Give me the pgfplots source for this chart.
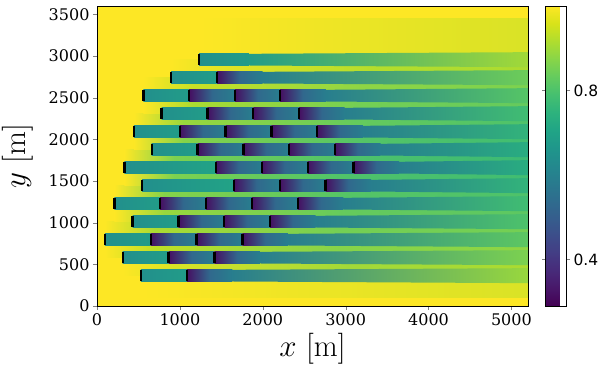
\RequirePackage{fix-cm}
\documentclass[border=0pt]{standalone}
\usepackage{fontspec}
\usepackage{pgfplots}
\pgfplotsset{compat=1.18}
\usetikzlibrary{calc}
\newfontfamily\dejavu{DejaVu Serif}
\newfontfamily\dejavusans{DejaVu Sans}

% viridis, sampled every tenth
\definecolor{vd0}{RGB}{68,1,84}
\definecolor{vd1}{RGB}{72,36,117}
\definecolor{vd2}{RGB}{65,68,135}
\definecolor{vd3}{RGB}{53,95,141}
\definecolor{vd4}{RGB}{42,120,142}
\definecolor{vd5}{RGB}{33,145,140}
\definecolor{vd6}{RGB}{34,168,132}
\definecolor{vd7}{RGB}{68,191,112}
\definecolor{vd8}{RGB}{122,209,81}
\definecolor{vd9}{RGB}{189,223,38}
\definecolor{vd10}{RGB}{253,231,37}
% c30 ... c100 : colour of the value 0.30 ... 1.00 on a 0.29--1.0 scale
\foreach \v in {30,...,100}{%
  \pgfmathsetmacro{\t}{(\v-29)/7.1}%
  \pgfmathtruncatemacro{\i}{min(floor(\t),9)}%
  \pgfmathtruncatemacro{\j}{\i+1}%
  \pgfmathtruncatemacro{\f}{round((\t-\i)*100)}%
  \xglobal\colorlet{c\v}{vd\j!\f!vd\i}%
}

\pgfplotsset{
  sh/.style n args={3}{draw=none, mark=none, left color=#1, right color=#3, middle color=#2},
  sh2/.style n args={2}{draw=none, mark=none, left color=#1, right color=#2},
}

\begin{document}
\begin{tikzpicture}
\begin{axis}[
  name=ax,
  scale only axis,
  width=431pt, height=300pt,
  xmin=0, xmax=5200, ymin=0, ymax=3600,
  axis on top,
  axis background/.style={fill=c100},
  colormap/viridis,
  point meta min=0.29, point meta max=1.0,
  xtick={0,1000,...,5000},
  ytick={0,500,...,3500},
  scaled ticks=false,
  /pgf/number format/1000 sep={},
  /pgf/number format/assume math mode=true,
  tick label style={font=\dejavu\fontsize{16}{16}\selectfont},
  tick align=outside,
  tick pos=left,
  major tick length=4pt,
  xlabel={$x$ [m]}, ylabel={$y$ [m]},
  label style={font=\fontsize{31}{31}\selectfont},
  xlabel style={at={(axis description cs:0.5,-0.17)}, anchor=base},
  ylabel style={at={(axis description cs:-0.167,0.5)}, anchor=base},
  colorbar,
  colorbar style={
    at={(parent axis.north east)}, anchor=north west, xshift=9pt,
    width=21pt,
    ytick={0.4,0.8},
    tick align=outside, major tick length=3.5pt,
    yticklabel style={font=\dejavusans\fontsize{15.5}{15.5}\selectfont},
    /pgf/number format/fixed, /pgf/number format/precision=1,
    /pgf/number format/assume math mode=true,
  },
]
% gaps between the rows of turbines (row centre to row centre)
\addplot[sh={c100}{c98}{c96}] coordinates {(530,100) (5200,100) (5200,364) (530,364)} -- cycle;
\addplot[sh2={c100}{c96}] coordinates {(310,364) (910,364) (910,580) (310,580)} -- cycle;
\addplot[sh={c96}{c90}{c91}] coordinates {(910,364) (5200,364) (5200,580) (910,580)} -- cycle;
\addplot[sh2={c100}{c93}] coordinates {(95,580) (695,580) (695,796) (95,796)} -- cycle;
\addplot[sh={c93}{c87}{c88}] coordinates {(695,580) (5200,580) (5200,796) (695,796)} -- cycle;
\addplot[sh2={c100}{c91}] coordinates {(95,796) (695,796) (695,1012) (95,1012)} -- cycle;
\addplot[sh={c91}{c85}{c85}] coordinates {(695,796) (5200,796) (5200,1012) (695,1012)} -- cycle;
\addplot[sh2={c100}{c89}] coordinates {(210,1012) (810,1012) (810,1228) (210,1228)} -- cycle;
\addplot[sh={c89}{c83}{c82}] coordinates {(810,1012) (5200,1012) (5200,1228) (810,1228)} -- cycle;
\addplot[sh2={c100}{c87}] coordinates {(210,1228) (810,1228) (810,1444) (210,1444)} -- cycle;
\addplot[sh={c87}{c81}{c80}] coordinates {(810,1228) (5200,1228) (5200,1444) (810,1444)} -- cycle;
\addplot[sh2={c100}{c86}] coordinates {(330,1444) (930,1444) (930,1660) (330,1660)} -- cycle;
\addplot[sh={c86}{c80}{c78}] coordinates {(930,1444) (5200,1444) (5200,1660) (930,1660)} -- cycle;
\addplot[sh2={c100}{c86}] coordinates {(330,1660) (930,1660) (930,1876) (330,1876)} -- cycle;
\addplot[sh={c86}{c80}{c77}] coordinates {(930,1660) (5200,1660) (5200,1876) (930,1876)} -- cycle;
\addplot[sh2={c100}{c87}] coordinates {(445,1876) (1045,1876) (1045,2092) (445,2092)} -- cycle;
\addplot[sh={c87}{c81}{c78}] coordinates {(1045,1876) (5200,1876) (5200,2092) (1045,2092)} -- cycle;
\addplot[sh2={c100}{c89}] coordinates {(445,2092) (1045,2092) (1045,2308) (445,2308)} -- cycle;
\addplot[sh={c89}{c83}{c80}] coordinates {(1045,2092) (5200,2092) (5200,2308) (1045,2308)} -- cycle;
\addplot[sh2={c100}{c91}] coordinates {(560,2308) (1160,2308) (1160,2524) (560,2524)} -- cycle;
\addplot[sh={c91}{c85}{c83}] coordinates {(1160,2308) (5200,2308) (5200,2524) (1160,2524)} -- cycle;
\addplot[sh2={c100}{c94}] coordinates {(560,2524) (1160,2524) (1160,2740) (560,2740)} -- cycle;
\addplot[sh={c94}{c88}{c86}] coordinates {(1160,2524) (5200,2524) (5200,2740) (1160,2740)} -- cycle;
\addplot[sh2={c100}{c97}] coordinates {(895,2740) (1495,2740) (1495,2956) (895,2956)} -- cycle;
\addplot[sh={c97}{c92}{c91}] coordinates {(1495,2740) (5200,2740) (5200,2956) (1495,2956)} -- cycle;
\addplot[sh={c100}{c98}{c96}] coordinates {(1233,2956) (5200,2956) (5200,3450) (1233,3450)} -- cycle;

% wakes, row by row: first rotor, rotors in the wake of others, recovery
% row y=364
\addplot[sh2={c64}{c68}] coordinates {(530,294) (1083,294) (1083,434) (530,434)} -- cycle;
\addplot[sh={c32}{c53}{c59}] coordinates {(1083,294) (1633,294) (1633,434) (1083,434)} -- cycle;
\addplot[sh2={c59}{c89}] coordinates {(1633,294) (5200,274) (5200,454) (1633,434)} -- cycle;
% row y=580
\addplot[sh2={c64}{c68}] coordinates {(310,510) (863,510) (863,650) (310,650)} -- cycle;
\addplot[sh={c32}{c53}{c59}] coordinates {(863,510) (1416,510) (1416,650) (863,650)} -- cycle;
\addplot[sh={c32}{c53}{c59}] coordinates {(1416,510) (1966,510) (1966,650) (1416,650)} -- cycle;
\addplot[sh2={c59}{c86}] coordinates {(1966,510) (5200,490) (5200,670) (1966,650)} -- cycle;
% row y=796
\addplot[sh2={c64}{c68}] coordinates {(95,726) (648,726) (648,866) (95,866)} -- cycle;
\addplot[sh={c32}{c53}{c59}] coordinates {(648,726) (1201,726) (1201,866) (648,866)} -- cycle;
\addplot[sh={c32}{c53}{c59}] coordinates {(1201,726) (1754,726) (1754,866) (1201,866)} -- cycle;
\addplot[sh={c32}{c53}{c59}] coordinates {(1754,726) (2304,726) (2304,866) (1754,866)} -- cycle;
\addplot[sh2={c59}{c82}] coordinates {(2304,726) (5200,706) (5200,886) (2304,866)} -- cycle;
% row y=1012
\addplot[sh2={c64}{c68}] coordinates {(430,942) (983,942) (983,1082) (430,1082)} -- cycle;
\addplot[sh={c32}{c53}{c59}] coordinates {(983,942) (1536,942) (1536,1082) (983,1082)} -- cycle;
\addplot[sh={c32}{c53}{c59}] coordinates {(1536,942) (2089,942) (2089,1082) (1536,1082)} -- cycle;
\addplot[sh={c32}{c53}{c59}] coordinates {(2089,942) (2639,942) (2639,1082) (2089,1082)} -- cycle;
\addplot[sh2={c59}{c80}] coordinates {(2639,942) (5200,922) (5200,1102) (2639,1082)} -- cycle;
% row y=1228
\addplot[sh2={c64}{c68}] coordinates {(210,1158) (763,1158) (763,1298) (210,1298)} -- cycle;
\addplot[sh={c32}{c53}{c59}] coordinates {(763,1158) (1316,1158) (1316,1298) (763,1298)} -- cycle;
\addplot[sh={c32}{c53}{c59}] coordinates {(1316,1158) (1869,1158) (1869,1298) (1316,1298)} -- cycle;
\addplot[sh={c32}{c53}{c59}] coordinates {(1869,1158) (2422,1158) (2422,1298) (1869,1298)} -- cycle;
\addplot[sh={c32}{c53}{c59}] coordinates {(2422,1158) (2972,1158) (2972,1298) (2422,1298)} -- cycle;
\addplot[sh2={c59}{c78}] coordinates {(2972,1158) (5200,1138) (5200,1318) (2972,1298)} -- cycle;
% row y=1444
\addplot[sh2={c64}{c70}] coordinates {(545,1374) (1651,1374) (1651,1514) (545,1514)} -- cycle;
\addplot[sh={c32}{c53}{c59}] coordinates {(1651,1374) (2204,1374) (2204,1514) (1651,1514)} -- cycle;
\addplot[sh={c32}{c53}{c59}] coordinates {(2204,1374) (2757,1374) (2757,1514) (2204,1514)} -- cycle;
\addplot[sh={c32}{c53}{c59}] coordinates {(2757,1374) (3307,1374) (3307,1514) (2757,1514)} -- cycle;
\addplot[sh2={c59}{c75}] coordinates {(3307,1374) (5200,1354) (5200,1534) (3307,1514)} -- cycle;
% row y=1660
\addplot[sh2={c64}{c70}] coordinates {(330,1590) (1436,1590) (1436,1730) (330,1730)} -- cycle;
\addplot[sh={c32}{c53}{c59}] coordinates {(1436,1590) (1989,1590) (1989,1730) (1436,1730)} -- cycle;
\addplot[sh={c32}{c53}{c59}] coordinates {(1989,1590) (2542,1590) (2542,1730) (1989,1730)} -- cycle;
\addplot[sh={c32}{c53}{c59}] coordinates {(2542,1590) (3095,1590) (3095,1730) (2542,1730)} -- cycle;
\addplot[sh={c32}{c53}{c59}] coordinates {(3095,1590) (3645,1590) (3645,1730) (3095,1730)} -- cycle;
\addplot[sh2={c59}{c73}] coordinates {(3645,1590) (5200,1570) (5200,1750) (3645,1730)} -- cycle;
% row y=1876
\addplot[sh2={c64}{c68}] coordinates {(660,1806) (1213,1806) (1213,1946) (660,1946)} -- cycle;
\addplot[sh={c32}{c53}{c59}] coordinates {(1213,1806) (1766,1806) (1766,1946) (1213,1946)} -- cycle;
\addplot[sh={c32}{c53}{c59}] coordinates {(1766,1806) (2319,1806) (2319,1946) (1766,1946)} -- cycle;
\addplot[sh={c32}{c53}{c59}] coordinates {(2319,1806) (2872,1806) (2872,1946) (2319,1946)} -- cycle;
\addplot[sh={c32}{c53}{c59}] coordinates {(2872,1806) (3422,1806) (3422,1946) (2872,1946)} -- cycle;
\addplot[sh2={c59}{c73}] coordinates {(3422,1806) (5200,1786) (5200,1966) (3422,1946)} -- cycle;
% row y=2092
\addplot[sh2={c64}{c68}] coordinates {(445,2022) (998,2022) (998,2162) (445,2162)} -- cycle;
\addplot[sh={c32}{c53}{c59}] coordinates {(998,2022) (1551,2022) (1551,2162) (998,2162)} -- cycle;
\addplot[sh={c32}{c53}{c59}] coordinates {(1551,2022) (2104,2022) (2104,2162) (1551,2162)} -- cycle;
\addplot[sh={c32}{c53}{c59}] coordinates {(2104,2022) (2657,2022) (2657,2162) (2104,2162)} -- cycle;
\addplot[sh={c32}{c53}{c59}] coordinates {(2657,2022) (3207,2022) (3207,2162) (2657,2162)} -- cycle;
\addplot[sh2={c59}{c75}] coordinates {(3207,2022) (5200,2002) (5200,2182) (3207,2162)} -- cycle;
% row y=2308
\addplot[sh2={c64}{c68}] coordinates {(780,2238) (1333,2238) (1333,2378) (780,2378)} -- cycle;
\addplot[sh={c32}{c53}{c59}] coordinates {(1333,2238) (1886,2238) (1886,2378) (1333,2378)} -- cycle;
\addplot[sh={c32}{c53}{c59}] coordinates {(1886,2238) (2439,2238) (2439,2378) (1886,2378)} -- cycle;
\addplot[sh={c32}{c53}{c59}] coordinates {(2439,2238) (2989,2238) (2989,2378) (2439,2378)} -- cycle;
\addplot[sh2={c59}{c78}] coordinates {(2989,2238) (5200,2218) (5200,2398) (2989,2378)} -- cycle;
% row y=2524
\addplot[sh2={c64}{c68}] coordinates {(560,2454) (1113,2454) (1113,2594) (560,2594)} -- cycle;
\addplot[sh={c32}{c53}{c59}] coordinates {(1113,2454) (1666,2454) (1666,2594) (1113,2594)} -- cycle;
\addplot[sh={c32}{c53}{c59}] coordinates {(1666,2454) (2210,2454) (2210,2594) (1666,2594)} -- cycle;
\addplot[sh={c32}{c53}{c59}] coordinates {(2210,2454) (2760,2454) (2760,2594) (2210,2594)} -- cycle;
\addplot[sh2={c59}{c81}] coordinates {(2760,2454) (5200,2434) (5200,2614) (2760,2594)} -- cycle;
% row y=2740
\addplot[sh2={c64}{c68}] coordinates {(895,2670) (1448,2670) (1448,2810) (895,2810)} -- cycle;
\addplot[sh={c32}{c53}{c59}] coordinates {(1448,2670) (1998,2670) (1998,2810) (1448,2810)} -- cycle;
\addplot[sh2={c59}{c84}] coordinates {(1998,2670) (5200,2650) (5200,2830) (1998,2810)} -- cycle;
% row y=2956
\addplot[sh2={c64}{c68}] coordinates {(1233,2886) (1833,2886) (1833,3026) (1233,3026)} -- cycle;
\addplot[sh2={c68}{c90}] coordinates {(1833,2886) (5200,2866) (5200,3046) (1833,3026)} -- cycle;

% turbines
\addplot[only marks, mark=|, mark size=5.3pt, mark options={line width=2.3pt, draw=black}] coordinates {
(530,364) (1083,364)
(310,580) (863,580) (1416,580)
(95,796) (648,796) (1201,796) (1754,796)
(430,1012) (983,1012) (1536,1012) (2089,1012)
(210,1228) (763,1228) (1316,1228) (1869,1228) (2422,1228)
(545,1444) (1651,1444) (2204,1444) (2757,1444)
(330,1660) (1436,1660) (1989,1660) (2542,1660) (3095,1660)
(660,1876) (1213,1876) (1766,1876) (2319,1876) (2872,1876)
(445,2092) (998,2092) (1551,2092) (2104,2092) (2657,2092)
(780,2308) (1333,2308) (1886,2308) (2439,2308)
(560,2524) (1113,2524) (1666,2524) (2210,2524)
(895,2740) (1448,2740)
(1233,2956)
};
\end{axis}
\pgfresetboundingbox
\path ($(ax.south west)+(-97pt,-67pt)$) rectangle ($(ax.north east)+(72pt,6pt)$);
\end{tikzpicture}
\end{document}
